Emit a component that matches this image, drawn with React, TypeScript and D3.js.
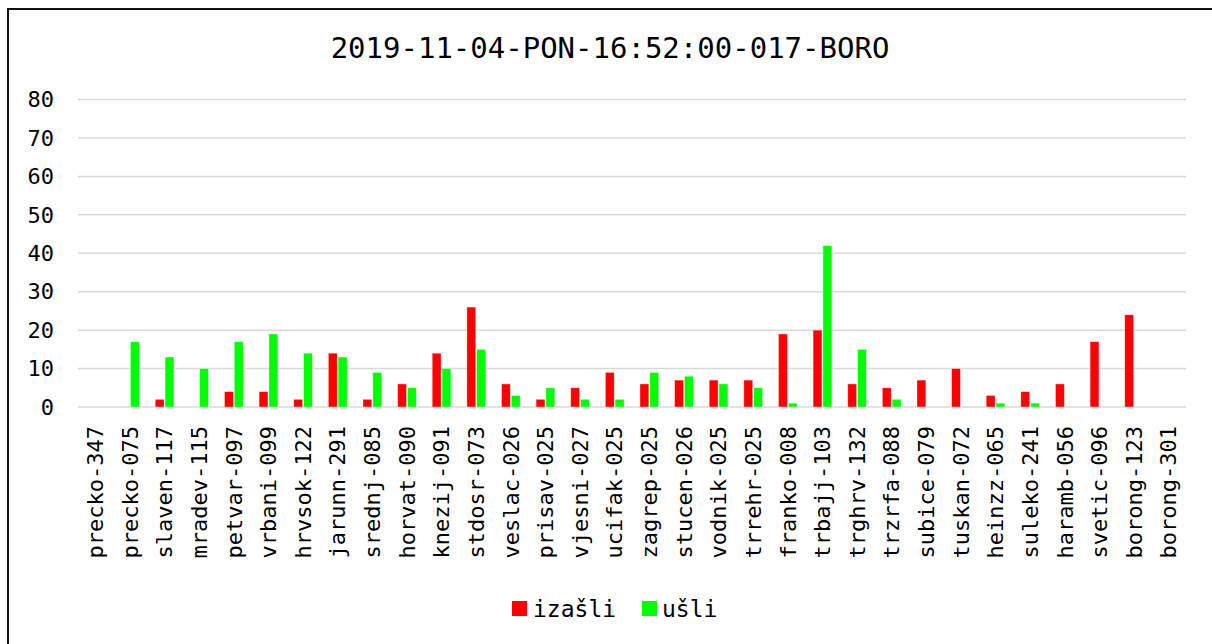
import React from "react";
import * as d3 from "d3";

const title = "2019-11-04-PON-16:52:00-017-BORO";

const categories = [
  "precko-347", "precko-075", "slaven-117", "mradev-115", "petvar-097", "vrbani-099",
  "hrvsok-122", "jarunn-291", "srednj-085", "horvat-090", "knezij-091", "stdosr-073",
  "veslac-026", "prisav-025", "vjesni-027", "ucifak-025", "zagrep-025", "stucen-026",
  "vodnik-025", "trrehr-025", "franko-008", "trbajj-103", "trghrv-132", "trzrfa-088",
  "subice-079", "tuskan-072", "heinzz-065", "suleko-241", "haramb-056", "svetic-096",
  "borong-123", "borong-301",
];

const izasli = [0, 0, 2, 0, 4, 4, 2, 14, 2, 6, 14, 26, 6, 2, 5, 9, 6, 7, 7, 7, 19, 20, 6, 5, 7, 10, 3, 4, 6, 17, 24, 0];
const usli = [0, 17, 13, 10, 17, 19, 14, 13, 9, 5, 10, 15, 3, 5, 2, 2, 9, 8, 6, 5, 1, 42, 15, 2, 0, 0, 1, 1, 0, 0, 0, 0];

const seriesNames = ["izašli", "ušli"];
const seriesColors = ["#ff0000", "#00ff00"];
const yTicks = [0, 10, 20, 30, 40, 50, 60, 70, 80];

const W = 1212, H = 644;
const left = 78, right = 1186, top = 99.5, bottom = 407;
const font = "'DejaVu Sans Mono', monospace";

export default function App() {
  const x0 = d3.scaleBand<string>()
    .domain(categories)
    .range([left, right])
    .paddingInner(0.46)
    .paddingOuter(0.23);
  const x1 = d3.scaleBand<string>()
    .domain(seriesNames)
    .range([0, x0.bandwidth()])
    .paddingInner(0.1);
  const y = d3.scaleLinear().domain([0, 80]).range([bottom, top]);

  const series = [izasli, usli];

  return (
    <svg width={W} height={H} style={{ position: "absolute", left: 0, top: 0 }} fontFamily={font}>
      <rect x={0} y={0} width={W} height={H} fill="#fff" />
      {/* outer chart frame, only left and top edges fall inside the picture */}
      <path d={`M8,${H} V9 H${W}`} fill="none" stroke="#111" strokeWidth={2} />
      <text x={610} y={58} textAnchor="middle" fontSize={29} fill="#000">{title}</text>

      {yTicks.map((t) => (
        <g key={t}>
          <line x1={left} x2={right} y1={y(t)} y2={y(t)} stroke="#d9d9d9" strokeWidth={1.5} />
          <text x={54} y={y(t)} dy="0.35em" textAnchor="end" fontSize={22} fill="#000">{t}</text>
        </g>
      ))}

      {categories.map((c, i) => (
        <g key={c} transform={`translate(${x0(c)},0)`}>
          {series.map((s, k) => s[i] > 0 && (
            <rect
              key={k}
              x={x1(seriesNames[k])}
              y={y(s[i])}
              width={x1.bandwidth()}
              height={y(0) - y(s[i])}
              fill={seriesColors[k]}
              stroke="#fff"
              strokeOpacity={0.5}
              strokeWidth={0.75}
            />
          ))}
        </g>
      ))}

      {categories.map((c) => (
        <text
          key={c}
          transform={`translate(${(x0(c) ?? 0) + x0.bandwidth() / 2},426) rotate(-90)`}
          dy="0.35em"
          textAnchor="end"
          fontSize={22}
          fill="#000"
        >{c}</text>
      ))}

      <g>
        <rect x={512} y={601} width={15} height={15} fill={seriesColors[0]} />
        <text x={533} y={617} fontSize={23} fill="#000">{seriesNames[0]}</text>
        <rect x={642} y={601} width={15} height={15} fill={seriesColors[1]} />
        <text x={662} y={617} fontSize={23} fill="#000">{seriesNames[1]}</text>
      </g>
    </svg>
  );
}
